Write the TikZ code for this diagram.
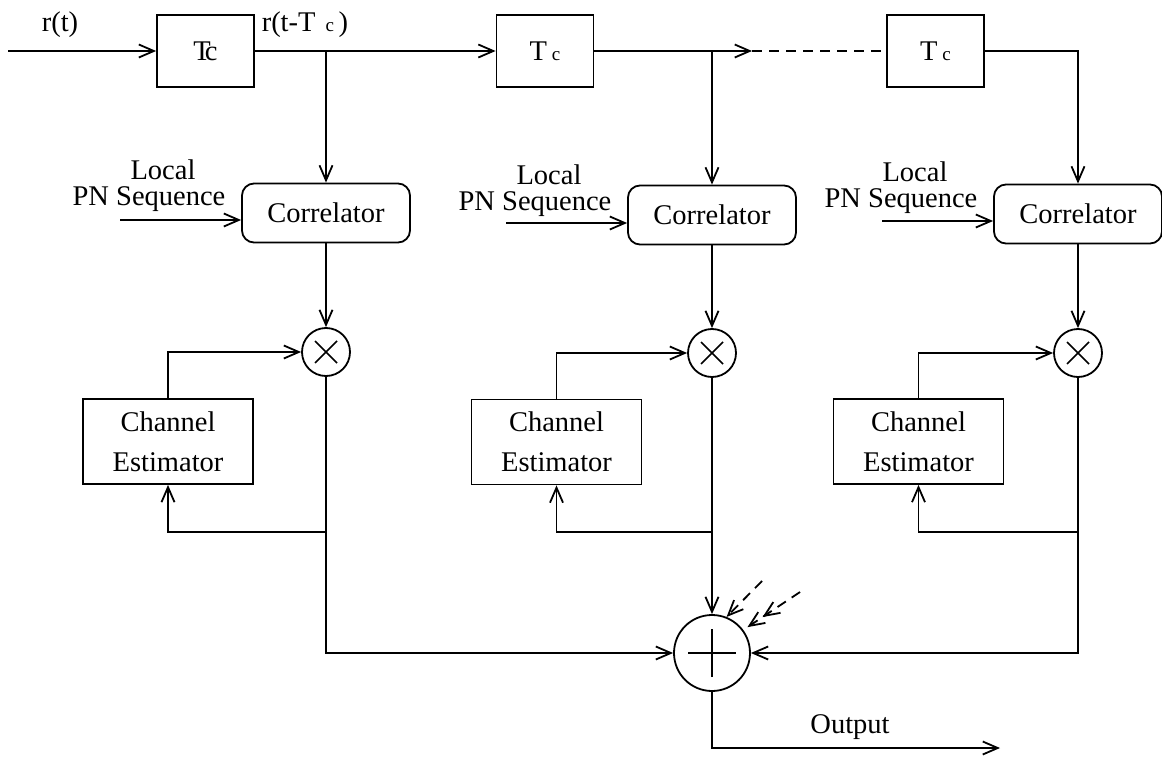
\documentclass[tikz,border=0pt]{standalone}
\usepackage{fontspec}
\setmainfont{Liberation Serif}
\usetikzlibrary{arrows.meta}
\newcommand\smc{\fontsize{19}{19}\selectfont}
\begin{document}
\begin{tikzpicture}[x=1pt,y=-1pt,
  line width=1.8pt,
  font=\fontsize{28.5}{40}\selectfont,
  >={Straight Barb[length=15pt,width=13pt]},
  delay/.style={draw, minimum width=97pt, minimum height=72pt, inner sep=0pt},
  corr/.style={draw, rounded corners=12pt, minimum width=168pt, minimum height=59pt, inner sep=0pt},
  est/.style={draw, minimum width=170pt, minimum height=85pt, inner sep=0pt, align=center},
  lbl/.style={inner sep=0pt},
  mult/.style={draw, circle, minimum size=48pt, inner sep=0pt,
    path picture={\draw[line width=1.5pt] (path picture bounding box.center)
      +(-11pt,-11pt) -- +(11pt,11pt) +(-11pt,11pt) -- +(11pt,-11pt);}},
  adder/.style={draw, circle, minimum size=76pt, inner sep=0pt,
    path picture={\draw[line width=1.8pt] (path picture bounding box.center)
      +(-24pt,0pt) -- +(24pt,0pt) +(0pt,-24pt) -- +(0pt,24pt);}},
  dsh/.style={dash pattern=on 10pt off 7pt}
]
\useasboundingbox (0,0) rectangle (1162,757);

% delay line
\coordinate (in) at (8,51);
\node[delay] (d1) at (205.5,51) {T\kern-6pt c};
\node[delay] (d2) at (545,51) {T\,{\smc c}};
\node[delay] (d3) at (935.5,51) {T\,{\smc c}};
\coordinate (t1) at (326,51);
\coordinate (t2) at (712,51);
\coordinate (t3) at (1078,51);
\coordinate (dsA) at (752,51);

\node[lbl] (lr) at (60,25) {r(t)};
\node[lbl] (lrd) at (305,25) {r(t-T\hspace{10pt}{\smc c}\,)};

\draw[->] (in) -- (d1);
\draw[->] (d1) -- (d2);
\draw[->] (d2.east) -- (dsA);
\draw[dsh] (dsA) -- (d3.west);

% correlators
\node[corr] (c1) at (326,213) {Correlator};
\node[corr] (c2) at (712,215) {Correlator};
\node[corr] (c3) at (1078,214) {Correlator};

\draw[->] (t1) -- (c1);
\draw[->] (t2) -- (c2);
\draw[->] (d3.east) -- (t3) -- (c3);

% local PN sequence inputs
\node[lbl] (lo1) at (163,170) {Local};
\node[lbl] (pn1) at (149,199) {PN Sequence};
\node[lbl] (lo2) at (549,175) {Local};
\node[lbl] (pn2) at (535,204) {PN Sequence};
\node[lbl] (lo3) at (915,172) {Local};
\node[lbl] (pn3) at (901,201) {PN Sequence};
\coordinate (p1) at (120,220);
\coordinate (p2) at (506,223);
\coordinate (p3) at (882,221);
\draw[->] (p1) -- (p1 -| c1.west);
\draw[->] (p2) -- (p2 -| c2.west);
\draw[->] (p3) -- (p3 -| c3.west);

% multipliers
\node[mult] (m1) at (326,352) {};
\node[mult] (m2) at (712,353) {};
\node[mult] (m3) at (1078,353) {};
\draw[->] (c1) -- (m1);
\draw[->] (c2) -- (m2);
\draw[->] (c3) -- (m3);

% channel estimators
\node[est] (e1) at (168,441.5) {Channel\\Estimator};
\node[est] (e2) at (556.5,442) {Channel\\Estimator};
\node[est] (e3) at (918.5,441.5) {Channel\\Estimator};
\draw[->] (e1.north) |- (m1.west);
\draw[->] (e2.north) |- (m2.west);
\draw[->] (e3.north) |- (m3.west);

\coordinate (f1) at (326,532);
\coordinate (f2) at (712,532);
\coordinate (f3) at (1078,532);
\draw[->] (f1) -| (e1.south);
\draw[->] (f2) -| (e2.south);
\draw[->] (f3) -| (e3.south);

% combiner
\node[adder] (s) at (712,653) {};
\draw[->] (m1.south) |- (s.west);
\draw[->] (m2.south) -- (s.north);
\draw[->] (m3.south) |- (s.east);

\coordinate (da) at (762,581);
\coordinate (db) at (800,592);
\draw[dsh,->] (da) -- (s.68);
\draw[dsh,-{Straight Barb[length=15pt,width=13pt] Straight Barb[length=15pt,width=13pt]}] (db) -- ([shift={(4pt,3pt)}]s.36);

% output
\coordinate (out) at (1000,748);
\draw[->] (s.south) |- (out);
\node[lbl] (lout) at (850,727) {Output};
\end{tikzpicture}
\end{document}
